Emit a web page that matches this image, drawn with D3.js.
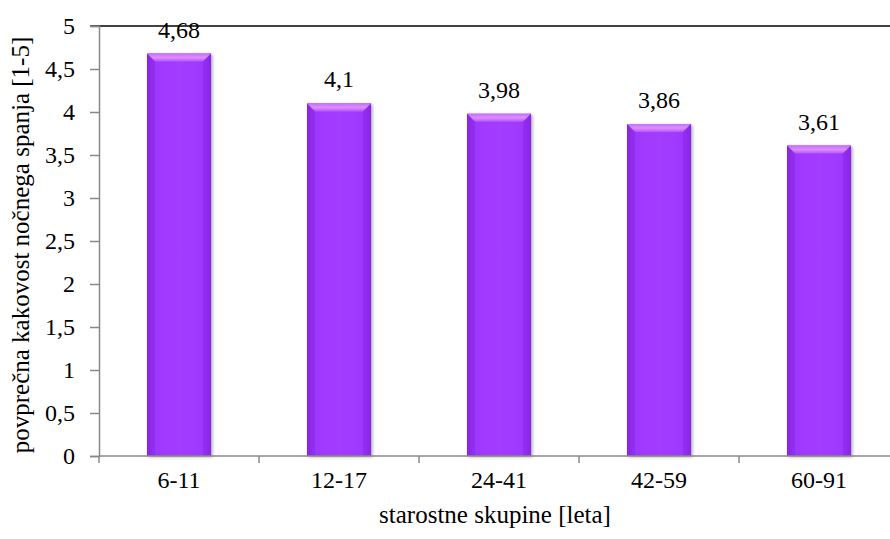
<!DOCTYPE html>
<html><head><meta charset="utf-8">
<script src="https://cdn.jsdelivr.net/npm/d3@7"></script>
<style>body{margin:0;background:#fff}svg{display:block}</style>
</head><body><svg id="c" width="890" height="539"></svg>
<script>
const categories = ["6-11","12-17","24-41","42-59","60-91"];
const values = [4.68,4.1,3.98,3.86,3.61];
const labels = ["4,68","4,1","3,98","3,86","3,61"];
const yTicks = [0,0.5,1,1.5,2,2.5,3,3.5,4,4.5,5];
const yTickLabels = ["0","0,5","1","1,5","2","2,5","3","3,5","4","4,5","5"];
const yTitle = "povprečna kakovost nočnega spanja [1-5]";
const xTitle = "starostne skupine [leta]";

const FONT = "'Liberation Serif'";
const svg = d3.select("#c");
const pLeft = 99, pRight = 899, pTop = 26, pBottom = 456;
const x = d3.scaleBand().domain(categories).range([pLeft,pRight]).paddingInner(0.6).paddingOuter(0.3);
const y = d3.scaleLinear().domain([0,5]).range([pBottom,pTop]);

const defs = svg.append("defs");
const g1 = defs.append("linearGradient").attr("id","hg").attr("x1",0).attr("x2",1).attr("y1",0).attr("y2",0);
g1.append("stop").attr("offset","0%").attr("stop-color","#8a25e8");
g1.append("stop").attr("offset","8%").attr("stop-color","#9e38ff");
g1.append("stop").attr("offset","50%").attr("stop-color","#a33cff");
g1.append("stop").attr("offset","92%").attr("stop-color","#9e38ff");
g1.append("stop").attr("offset","100%").attr("stop-color","#8a25e8");
const g2 = defs.append("linearGradient").attr("id","tg").attr("x1",0).attr("x2",0).attr("y1",0).attr("y2",1);
g2.append("stop").attr("offset","0%").attr("stop-color","#c070ff");
g2.append("stop").attr("offset","50%").attr("stop-color","#e28cff");
g2.append("stop").attr("offset","100%").attr("stop-color","#b058ff");
const f = defs.append("filter").attr("id","sh").attr("x","-20%").attr("y","-20%").attr("width","140%").attr("height","140%");
f.append("feDropShadow").attr("dx",1.5).attr("dy",1).attr("stdDeviation",1.5).attr("flood-color","#000").attr("flood-opacity",0.35);

// top border line
svg.append("line").attr("x1",pLeft-9).attr("x2",890).attr("y1",y(5)).attr("y2",y(5)).attr("stroke","#000").attr("stroke-width",1.5);

const bars = svg.append("g").selectAll("g").data(categories).join("g");
bars.append("rect").attr("x",d=>x(d)).attr("width",x.bandwidth())
  .attr("y",(d,i)=>y(values[i])).attr("height",(d,i)=>pBottom-y(values[i]))
  .attr("fill","url(#hg)").attr("filter","url(#sh)");
bars.append("path").attr("d",(d,i)=>{
  const x0=x(d), x1=x0+x.bandwidth(), t=y(values[i]), b=8;
  return `M${x0},${t}L${x1},${t}L${x1-b},${t+b}L${x0+b},${t+b}Z`;
}).attr("fill","url(#tg)");
bars.append("path").attr("d",(d,i)=>{
  const x0=x(d), t=y(values[i]), b=8;
  return `M${x0},${t}L${x0+b},${t+b}L${x0+b},${pBottom}L${x0},${pBottom}Z`;
}).attr("fill","#8422e0").attr("opacity",0.5);
bars.append("path").attr("d",(d,i)=>{
  const x1=x(d)+x.bandwidth(), t=y(values[i]), b=8;
  return `M${x1},${t}L${x1-b},${t+b}L${x1-b},${pBottom}L${x1},${pBottom}Z`;
}).attr("fill","#8422e0").attr("opacity",0.5);

bars.append("text").attr("x",d=>x(d)+x.bandwidth()/2).attr("y",(d,i)=>y(values[i])-16)
  .attr("text-anchor","middle").style("font-family",FONT).style("font-size","24px").attr("fill","#000").text((d,i)=>labels[i]);

// y axis
const ya = svg.append("g").attr("transform",`translate(${pLeft},0)`)
  .call(d3.axisLeft(y).tickValues(yTicks).tickFormat((d,i)=>yTickLabels[i]).tickSize(9).tickPadding(15));
ya.select(".domain").attr("stroke","#888").attr("stroke-width",1.5);
ya.selectAll(".tick line").attr("stroke","#888").attr("stroke-width",1.5);
ya.selectAll("text").style("font-family",FONT).style("font-size","24px").attr("fill","#000");

// x axis
const xa = svg.append("g").attr("transform",`translate(0,${pBottom})`)
  .call(d3.axisBottom(x).tickSize(0).tickPadding(15));
xa.select(".domain").attr("d",`M${pLeft},0H890`).attr("stroke","#888").attr("stroke-width",1.5);
xa.selectAll("text").style("font-family",FONT).style("font-size","24px").attr("fill","#000");
const step = x.step();
const bounds = d3.range(categories.length+1).map(i=>pLeft+i*step);
xa.selectAll("line.b").data(bounds).join("line").attr("class","b")
  .attr("x1",d=>d).attr("x2",d=>d).attr("y1",0).attr("y2",7).attr("stroke","#888").attr("stroke-width",1.5);

svg.append("text").attr("transform",`translate(29,245) rotate(-90)`)
  .attr("text-anchor","middle").style("font-family",FONT).style("font-size","25px").text(yTitle);
svg.append("text").attr("x",495).attr("y",523).attr("text-anchor","middle").style("font-family",FONT).style("font-size","25px").text(xTitle);
</script></body></html>
